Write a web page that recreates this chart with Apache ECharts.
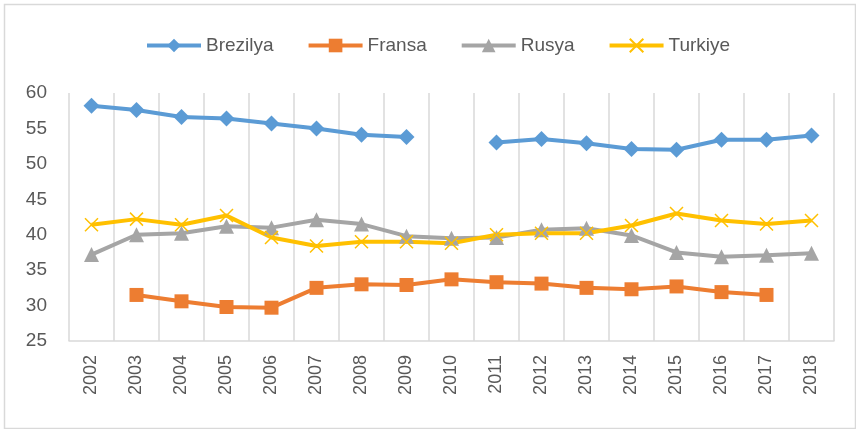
<!DOCTYPE html>
<html>
<head>
<meta charset="utf-8">
<script src="https://cdn.jsdelivr.net/npm/echarts@6/dist/echarts.min.js"></script>
<style>
  html, body { margin: 0; padding: 0; background: #fff; }
  #chart { width: 856px; height: 429px; }
</style>
</head>
<body>
<div id="chart"></div>
<script>
// years on the x axis
const years = ['2002', '2003', '2004', '2005', '2006', '2007', '2008', '2009', '2010',
  '2011', '2012', '2013', '2014', '2015', '2016', '2017', '2018']

// null = no value that year (gap in the line)
const brezilya = [58.2, 57.6, 56.6, 56.4, 55.7, 55.0, 54.1, 53.8, null,
  53.0, 53.5, 52.9, 52.1, 52.0, 53.4, 53.4, 54.0]
const fransa = [null, 31.5, 30.6, 29.8, 29.7, 32.5, 33.0, 32.9, 33.7,
  33.3, 33.1, 32.5, 32.3, 32.7, 31.9, 31.5, null]
const rusya = [37.2, 40.0, 40.2, 41.2, 41.0, 42.1, 41.5, 39.8, 39.5,
  39.6, 40.7, 40.9, 39.9, 37.5, 36.9, 37.1, 37.4]
const turkiye = [41.4, 42.2, 41.4, 42.7, 39.6, 38.4, 39.0, 39.0, 38.8,
  40.0, 40.2, 40.2, 41.3, 43.0, 42.0, 41.5, 42.0]

const FONT = "'Liberation Sans', 'Noto Sans', sans-serif"
const xMark = 'path://M0,0 L10,10 M10,0 L0,10'

const chart = echarts.init(document.getElementById('chart'), null, { renderer: 'canvas' })

function lineSeries(name, data, color, symbol, size, extra) {
  return Object.assign({
    name: name,
    type: 'line',
    data: data,
    connectNulls: false,
    symbol: symbol,
    symbolSize: size,
    lineStyle: { color: color, width: 4 },
    itemStyle: { color: color },
    emphasis: { disabled: true },
    animation: false,
  }, extra || {})
}

chart.setOption({
  backgroundColor: '#fff',
  graphic: [{
    type: 'rect',
    left: 2, top: 2,
    shape: { width: 851, height: 424 },
    style: { fill: 'none', stroke: '#d9d9d9', lineWidth: 1.5 },
    silent: true,
  }],
  legend: {
    top: 31,
    left: 140,
    itemWidth: 54,
    itemHeight: 17,
    itemGap: 33,
    lineStyle: { width: 4 },
    textStyle: { fontFamily: FONT, fontSize: 19, color: '#595959' },
    data: ['Brezilya', 'Fransa', 'Rusya', 'Turkiye'],
  },
  grid: { left: 69, right: 22, top: 93, bottom: 88 },
  xAxis: {
    type: 'category',
    data: years,
    boundaryGap: true,
    axisLine: { lineStyle: { color: '#d9d9d9', width: 1.5 } },
    axisTick: { show: false },
    splitLine: { show: true, lineStyle: { color: '#d9d9d9', width: 1.5 } },
    axisLabel: {
      rotate: 90,
      margin: 14,
      fontFamily: FONT,
      fontSize: 18,
      color: '#595959',
      interval: 0,
    },
  },
  yAxis: {
    type: 'value',
    min: 25,
    max: 60,
    interval: 5,
    axisLine: { show: false },
    axisTick: { show: false },
    splitLine: { show: false },
    axisLabel: { fontFamily: FONT, fontSize: 19, color: '#595959', margin: 22 },
  },
  series: [
    lineSeries('Brezilya', brezilya, '#5B9BD5', 'diamond', 16),
    lineSeries('Fransa', fransa, '#ED7D31', 'rect', 14),
    lineSeries('Rusya', rusya, '#A5A5A5', 'triangle', 15),
    lineSeries('Turkiye', turkiye, '#FFC000', xMark, 13, {
      itemStyle: { color: '#FFC000', borderColor: '#FFC000', borderWidth: 1.5 },
    }),
  ],
})
</script>
</body>
</html>
